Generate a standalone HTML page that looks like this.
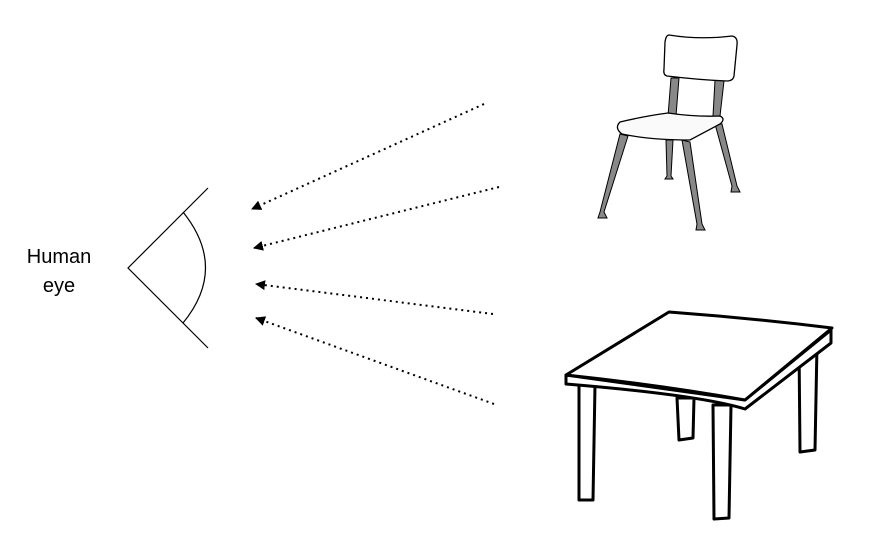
<!DOCTYPE html>
<html><head><meta charset="utf-8"><style>
html,body{margin:0;padding:0;background:#fff;}
svg{display:block;}
text{font-family:"Liberation Sans",sans-serif;}
</style></head><body>
<svg width="896" height="559" viewBox="0 0 896 559">
<defs>
<marker id="ah" markerWidth="10" markerHeight="10" refX="9" refY="5" orient="auto" markerUnits="userSpaceOnUse">
<path d="M0,0 L10,5 L0,10 Z" fill="#000"/></marker>
</defs>
<g>
<text x="59" y="263" font-size="20" text-anchor="middle" fill="#000">Human</text>
<text x="59" y="292" font-size="20" text-anchor="middle" fill="#000">eye</text>
</g>
<g stroke="#000" stroke-width="1.2" fill="none">
<path d="M208,188 L128,268 L208,348"/>
<path d="M183,212 Q228,268 183,323"/>
</g>
<g stroke="#000" stroke-width="2" stroke-dasharray="2,4" fill="none">
<line x1="484" y1="104" x2="252" y2="209" marker-end="url(#ah)"/>
<line x1="499" y1="187" x2="254" y2="248" marker-end="url(#ah)"/>
<line x1="493" y1="314" x2="256" y2="284" marker-end="url(#ah)"/>
<line x1="494" y1="404" x2="256" y2="318" marker-end="url(#ah)"/>
</g>
<g stroke="#000" stroke-width="1">
<path d="M671,78 L679,78 L676,116 L668,116 Z" fill="#888"/>
<path d="M715,80 L724,81 L720,116 L713,116 Z" fill="#888"/>
<path d="M666,140 L673,140 L671,176 L673,179 L665,179 L667,176 Z" fill="#888"/>
<path d="M715,124 L722,124 L737,186 L740,192 L731,192 L732,186 Z" fill="#888"/>
<path d="M620,134 L628,136 L604,212 L607,218 L598,218 L600,212 Z" fill="#888"/>
<path d="M682,140 L690,142 L702,224 L705,230 L696,230 L697,224 Z" fill="#888"/>
<path d="M669,35 Q700,40 732,36 Q738,37 737,45 L734,76 Q733,81 727,81 Q700,80 667,76 Q663,75 664,69 L665,42 Q666,35 669,35 Z" fill="#fff" stroke-width="1.3"/>
<path d="M620,122 Q645,116 668,113 Q695,117 720,116 Q726,119 720,124 L690,140 Q650,140 622,134 Q614,128 620,122 Z" fill="#fafafa" stroke-width="1.3"/>
</g>
<g stroke="#000" stroke-width="3" fill="#fff" stroke-linejoin="round">
<path d="M677,398 L694,398 L693,438 L679,440 Z"/>
<path d="M799,345 L817,345 L815,450 L800,452 Z"/>
<path d="M579,384 L595,385 L593,500 L579,500 Z"/>
<path d="M713,405 L731,405 L729,518 L714,519 Z"/>
<path d="M566,375 L745,400 L831,330 L831,343 L745,409 Q700,395 566,384 Z"/>
<path d="M566,375 L669,312 Q750,318 832,328 L745,400 Q660,385 566,375 Z"/>
</g>
</svg>
</body></html>
